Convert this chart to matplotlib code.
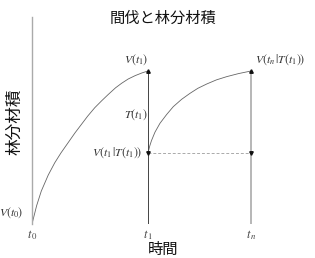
import matplotlib
matplotlib.use("Agg")
import matplotlib.pyplot as plt

plt.rcParams['font.family'] = ['Noto Sans CJK JP', 'DejaVu Sans']
plt.rcParams['mathtext.fontset'] = 'stix'

# data
t_ticks = [0.0, 1.0, 1.888]
t_labels = [r'$t_{\,0}$', r'$t_{\,1}$', r'$t_{\,n}$']
curve1_t = [0.0, 0.04, 0.08, 0.14, 0.196, 0.25, 0.31, 0.37, 0.425, 0.48, 0.541, 0.6, 0.655,
            0.72, 0.773, 0.83, 0.89, 0.95, 1.0]
curve1_v = [0.0, 0.12, 0.215, 0.32, 0.40, 0.465, 0.53, 0.595, 0.65, 0.705, 0.76, 0.805, 0.845,
            0.89, 0.92, 0.948, 0.97, 0.988, 1.0]
curve2_t = [1.0, 1.015, 1.03, 1.06, 1.103, 1.16, 1.218, 1.29, 1.362, 1.43, 1.506, 1.59, 1.678, 1.78, 1.888]
curve2_v = [0.464, 0.51, 0.545, 0.60, 0.658, 0.715, 0.767, 0.815, 0.854, 0.887, 0.915, 0.942, 0.963, 0.983, 1.0]
v_t1 = 1.0
v_after = 0.464
v_tn = 1.0

fig = plt.figure(figsize=(3.15, 2.58), dpi=100)
ax = fig.add_axes([32/315, 34/258, 263/315, 207/258])
ax.set_xlim(0, 263/116)
ax.set_ylim(0, 207/153)

ax.plot(curve1_t, curve1_v, color='#666666', lw=0.6)
ax.plot(curve2_t, curve2_v, color='#666666', lw=0.6)
ax.plot([t_ticks[1], t_ticks[1]], [0, v_t1], color='#444444', lw=0.7)
ax.plot([t_ticks[2], t_ticks[2]], [0, v_tn], color='#aaaaaa', lw=1.2)
ax.plot([t_ticks[1], t_ticks[2]], [v_after, v_after], color='#aaaaaa', lw=0.7, ls=(0, (3, 2)))
ax.plot([t_ticks[1]], [v_t1], marker='^', ms=2.5, color='#111111')
ax.plot([t_ticks[2]], [v_tn], marker='^', ms=2.5, color='#111111')
ax.plot([t_ticks[1]], [v_after], marker='v', ms=2.5, color='#111111')
ax.plot([t_ticks[2]], [v_after], marker='v', ms=2.5, color='#111111')

for s in ['top', 'right', 'bottom']:
    ax.spines[s].set_visible(False)
ax.spines['left'].set_color('#aaaaaa')
ax.spines['left'].set_linewidth(1.0)
ax.set_yticks([])
ax.set_xticks(t_ticks)
ax.set_xticklabels(t_labels, fontsize=9, color='#444444')
ax.tick_params(axis='x', length=0, pad=3)

fs = 8.5
ax.text(-0.07, 0.072, r'$V(t_0)$', ha='right', va='center', fontsize=fs, color='#333333', clip_on=False)
ax.text(0.897, 1.075, r'$V(t_1)$', ha='center', va='center', fontsize=fs, color='#333333')
ax.text(2.138, 1.075, r'$V(t_n\,|T(t_1))$', ha='center', va='center', fontsize=fs, color='#333333')
ax.text(0.897, 0.712, r'$T(t_1)$', ha='center', va='center', fontsize=fs, color='#333333')
ax.text(0.955, 0.464, r'$V(t_1\,|T(t_1))$', ha='right', va='center', fontsize=fs, color='#333333')

fig.text(163/315, 1 - 18/258, '間伐と林分材積', ha='center', va='center', fontsize=11, color='#111111')
fig.text(163/315, 1 - 249/258, '時間', ha='center', va='center', fontsize=11, color='#111111')
fig.text(15/315, 1 - 122/258, '林分材積', ha='center', va='center', rotation=90, fontsize=12, color='#111111')

fig.savefig('out.png', dpi=100)
